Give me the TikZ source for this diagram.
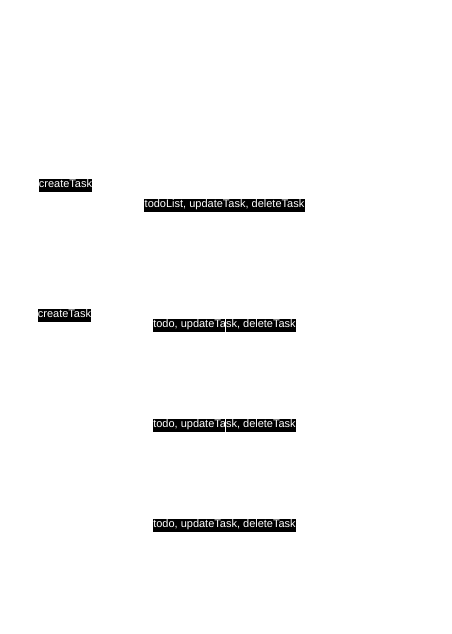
\documentclass[tikz,border=0pt]{standalone}
\usepackage{fontspec}
\setmainfont{Liberation Sans}
\begin{document}
\begin{tikzpicture}[x=1pt,y=1pt,
  lbl/.style={fill=black,text=white,inner xsep=0.4pt,inner ysep=0pt,
    minimum height=13pt,text height=8.2pt,text depth=2.3pt,
    font=\fontsize{11pt}{12pt}\selectfont,anchor=center},
  hidden edge/.style={draw=white,line width=1pt}]
\useasboundingbox[fill=white] (0,0) rectangle (452,-634);
\node[lbl] (c1) at (65.5,-185) {createTask};
\node[lbl] (t1) at (224.5,-205) {todoList, updateTask, deleteTask};
\node[lbl] (c2) at (64.5,-315) {createTask};
\node[lbl] (t2) at (224.5,-325) {todo, updateTask, deleteTask};
\node[lbl] (t3) at (224.5,-425) {todo, updateTask, deleteTask};
\node[lbl] (t4) at (224.5,-525) {todo, updateTask, deleteTask};
\coordinate (e1) at (225,-300);
\coordinate (e2) at (225,-445);
\draw[hidden edge] (e1) -- (e2);
\end{tikzpicture}
\end{document}
